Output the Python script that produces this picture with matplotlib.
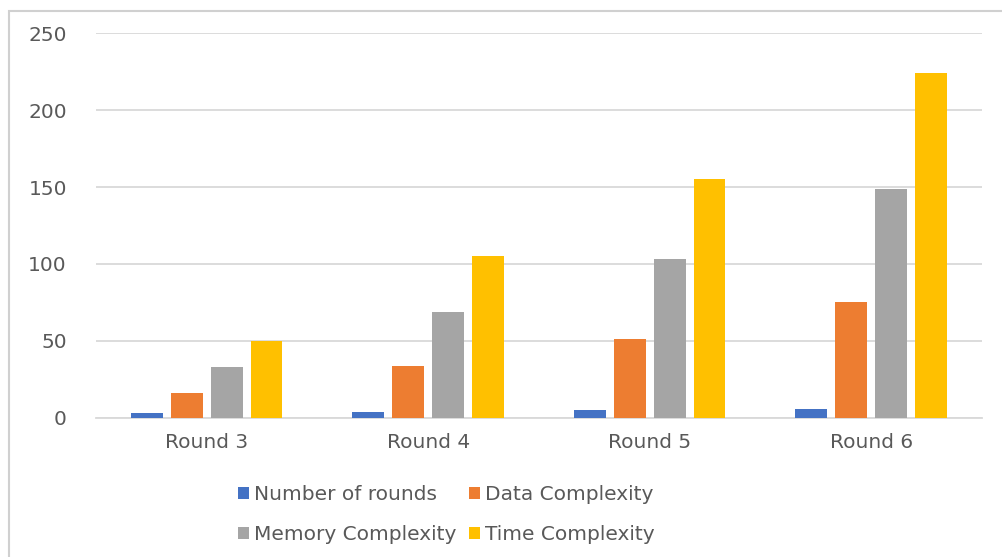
import matplotlib.pyplot as plt
import numpy as np
from matplotlib.patches import Rectangle

# ---------------------------------------------------------------------------
# Data
# ---------------------------------------------------------------------------
categories = ["Round 3", "Round 4", "Round 5", "Round 6"]
series_names = ["Number of rounds", "Data Complexity", "Memory Complexity", "Time Complexity"]
number_of_rounds = [3, 4, 5, 6]
data_complexity = [16, 34, 51, 75]
memory_complexity = [33, 69, 103, 149]
time_complexity = [50, 105, 155, 224]
y_ticks = [0, 50, 100, 150, 200, 250]

colors = ["#4472C4", "#ED7D31", "#A5A5A5", "#FFC000"]
text_color = "#595959"

fig = plt.figure(figsize=(10.03, 5.57), dpi=100)
ax = fig.add_axes([0.0957, 0.2496, 0.8833, 0.6911])

x = np.arange(len(categories))
step = 0.18
width = 0.144
all_series = [number_of_rounds, data_complexity, memory_complexity, time_complexity]
bars = []
for i, (name, vals) in enumerate(zip(series_names, all_series)):
    bars.append(ax.bar(x + (i - 1.5) * step, vals, width, color=colors[i], label=name, zorder=3))

ax.set_xlim(-0.5, len(categories) - 0.5)
ax.set_ylim(0, 250)
ax.set_yticks(y_ticks)
ax.set_xticks(x)
ax.set_xticklabels(categories)
ax.tick_params(axis="both", length=0, labelsize=14.5, labelcolor=text_color)
ax.tick_params(axis="y", pad=21)
ax.tick_params(axis="x", pad=11)
ax.grid(True, axis="y", color="#d9d9d9", lw=1.3, zorder=0)
for side in ["top", "right", "left"]:
    ax.spines[side].set_visible(False)
ax.spines["bottom"].set_color("#d9d9d9")
ax.spines["bottom"].set_linewidth(1.3)

# legend fills column-first, so reorder to get Excel's row-wise layout
order = [0, 2, 1, 3]
leg = fig.legend([bars[i] for i in order], [series_names[i] for i in order],
                 loc="center", bbox_to_anchor=(0.445, 0.076), ncol=2, frameon=False,
                 fontsize=14.5, handlelength=0.55, handleheight=0.55, handletextpad=0.25,
                 columnspacing=0.6, labelspacing=1.05)
for t in leg.get_texts():
    t.set_color(text_color)

# outer chart border (top/left visible in reference)
fig.add_artist(Rectangle((9 / 1003, -0.05), 1.2, 1 - 11 / 557 + 0.05, transform=fig.transFigure,
                         fill=False, edgecolor="#d0d0d0", lw=1.5))

fig.savefig("out.png", dpi=100)
